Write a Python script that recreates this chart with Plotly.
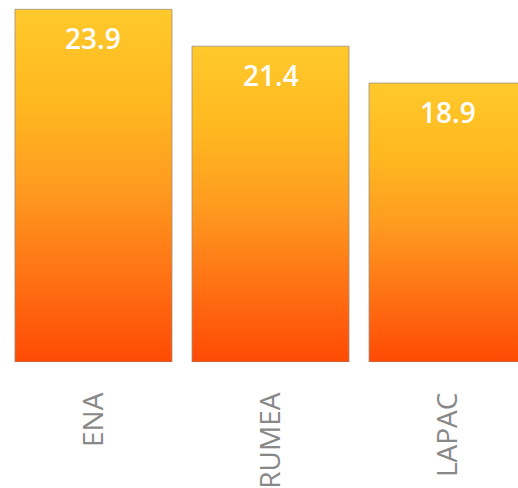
import plotly.graph_objects as go

categories = ["ENA", "RUMEA", "LAPAC"]
values = [23.9, 21.4, 18.9]
labels = ["23.9", "21.4", "18.9"]

bar_half = 0.4435
gradient = [[0.0, "#FF4A05"], [0.25, "#FF7314"], [0.5, "#FF9C20"],
            [0.75, "#FFB920"], [1.0, "#FFC92C"]]

fig = go.Figure()
for i, v in enumerate(values):
    xs = [i - bar_half, i - bar_half, i + bar_half, i + bar_half, i - bar_half]
    ys = [0, v, v, 0, 0]
    fig.add_trace(go.Scatter(
        x=xs, y=ys, mode="lines", fill="toself",
        line=dict(color="rgba(150,140,130,0.75)", width=1),
        fillgradient=dict(type="vertical", colorscale=gradient, start=0, stop=v),
        hoverinfo="skip", showlegend=False,
    ))
    fig.add_annotation(
        x=i, y=v, text=labels[i], showarrow=False, yanchor="middle", yshift=-29,
        font=dict(family="Open Sans", size=28, color="white", weight=600),
    )

fig.update_layout(
    width=518, height=488,
    margin=dict(l=0, r=0, t=0, b=126, autoexpand=False),
    paper_bgcolor="white", plot_bgcolor="white",
    showlegend=False,
    hovermode=False,
    xaxis=dict(range=[-0.528, 2.398], tickvals=list(range(len(categories))),
               ticktext=categories, tickangle=-90, showgrid=False, zeroline=False,
               showline=False, ticks="", ticklabelstandoff=24, automargin=False,
               fixedrange=True,
               tickfont=dict(family="Open Sans", size=28, color="#888888", weight=400)),
    yaxis=dict(range=[0, 24.53], visible=False, showgrid=False, zeroline=False,
               automargin=False, fixedrange=True),
)

fig.write_html("out.html", config={"displayModeBar": False},
               post_script="document.body.style.margin='0';document.body.style.overflow='hidden';")
